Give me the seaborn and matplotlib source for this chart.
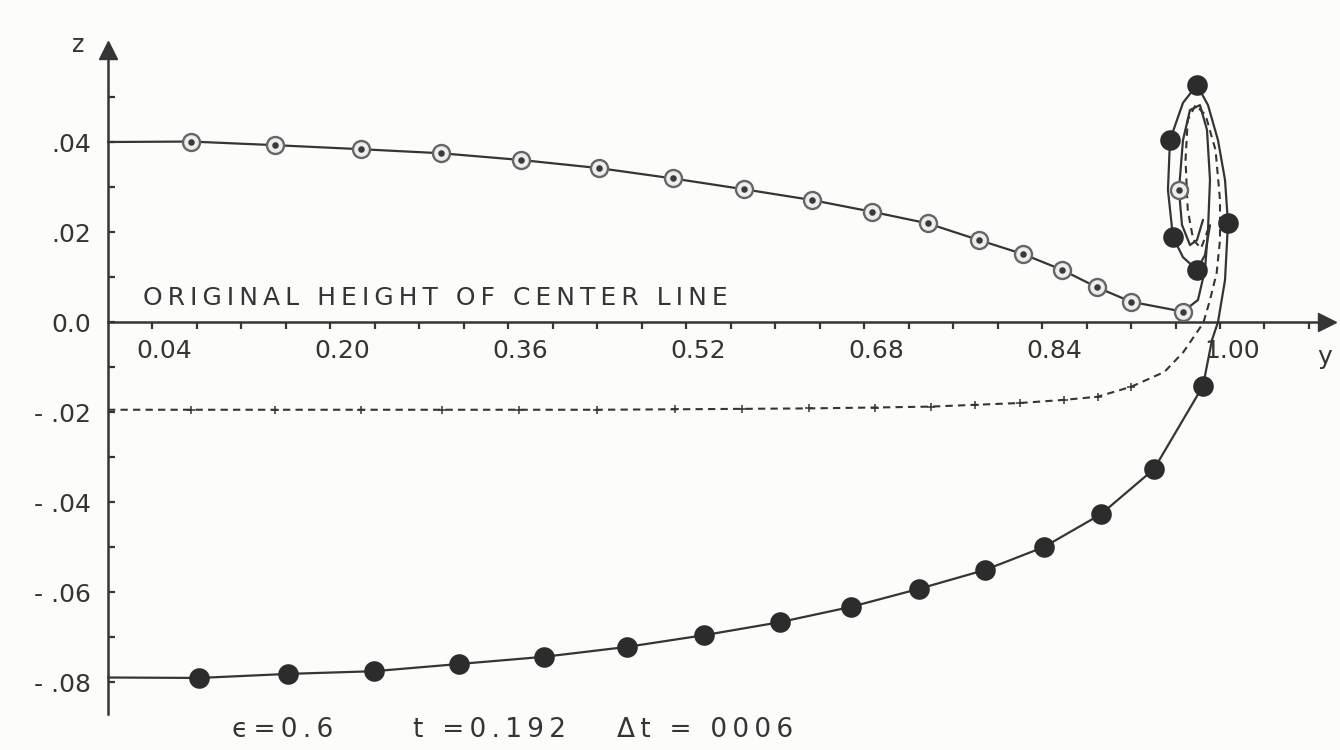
import matplotlib
matplotlib.use('Agg')
import matplotlib.pyplot as plt
import matplotlib.transforms as mtransforms
import numpy as np
import seaborn as sns


# upper interface (open circles), initially at z = .04
open_start = (0.0, 0.0400)
open_y = [0.0746, 0.150, 0.2275, 0.2995, 0.3714, 0.4415, 0.5081, 0.5719, 0.6331,
          0.6871, 0.7374, 0.7833, 0.8228, 0.8579, 0.8894, 0.9200, 0.9667]
open_z = [0.0401, 0.0393, 0.0384, 0.0375, 0.0360, 0.0342, 0.0319, 0.0295, 0.0271,
          0.0245, 0.0219, 0.0182, 0.0151, 0.0116, 0.0077, 0.0045, 0.0023]
# roll-up of the upper interface
open_tail_y = [0.9802, 0.9865, 0.9892, 0.9910, 0.9883, 0.9820, 0.9730, 0.9667,
               0.9631, 0.9658, 0.9730, 0.9793, 0.9847]
open_tail_z = [0.0049, 0.0116, 0.0204, 0.0316, 0.0427, 0.0482, 0.0471, 0.0404,
               0.0293, 0.0216, 0.0171, 0.0182, 0.0227]
open_tail_marks = [8]

# lower interface (filled circles), initially at z = -.08
filled_start = (0.0, -0.0790)
filled_y = [0.0818, 0.1619, 0.2392, 0.3156, 0.3921, 0.4667, 0.5360, 0.6043,
            0.6682, 0.7293, 0.7887, 0.8417, 0.8930, 0.9406, 0.9847]
filled_z = [-0.0791, -0.0782, -0.0776, -0.0760, -0.0744, -0.0722, -0.0696, -0.0667,
            -0.0633, -0.0593, -0.0551, -0.0500, -0.0427, -0.0327, -0.0142]
filled_tail_y = [0.9928, 0.9982, 1.0045, 1.0072, 1.0045, 0.9982, 0.9892, 0.9793,
                 0.9667, 0.9550, 0.9532, 0.9577, 0.9667, 0.9793, 0.9865, 0.9910]
filled_tail_z = [-0.0040, 0.0000, 0.0093, 0.0220, 0.0316, 0.0404, 0.0482, 0.0527,
                 0.0487, 0.0404, 0.0293, 0.0189, 0.0144, 0.0116, 0.0149, 0.0215]
filled_tail_marks = [3, 7, 9, 11, 13]

# center line (dashed), initially at z = -.02
dash_y = [0.0, 0.075, 0.150, 0.2275, 0.300, 0.370, 0.440, 0.510, 0.570, 0.630,
          0.690, 0.740, 0.780, 0.820, 0.860, 0.890, 0.920, 0.950, 0.967, 0.985,
          0.991, 0.997, 1.000, 1.000, 0.996, 0.987, 0.978, 0.971, 0.969, 0.971,
          0.976, 0.983, 0.989]
dash_z = [-0.0195, -0.0195, -0.0195, -0.0195, -0.0195, -0.0195, -0.0195, -0.0194,
          -0.0193, -0.0192, -0.0190, -0.0188, -0.0184, -0.0180, -0.0173, -0.0166,
          -0.0144, -0.0111, -0.0067, -0.0002, 0.0049, 0.0109, 0.0182, 0.0271,
          0.0382, 0.0460, 0.0482, 0.0449, 0.0360, 0.0249, 0.0182, 0.0164, 0.0204]
dash_marks = list(range(1, 17))

xtick_vals = [0.04, 0.20, 0.36, 0.52, 0.68, 0.84, 1.00]
xtick_labels = ['0.04', '0.20', '0.36', '0.52', '0.68', '0.84', '1.00']
ytick_vals = [-0.08, -0.06, -0.04, -0.02, 0.0, 0.02, 0.04]
ytick_labels = ['- .08', '- .06', '- .04', '- .02', '0.0', '.02', '.04']

ink = '#353535'
paper = '#fcfcfb'


def spaced(s):
    # hand lettering on the original is widely spaced
    return '\u2009'.join(s)


sns.set_style('white')
plt.rcParams['font.family'] = ['DejaVu Sans']

fig = plt.figure(figsize=(13.4, 7.5), dpi=100, facecolor=paper)
# axis geometry in pixels: y=0 at x=108, 1112 px per unit; z=0 at 322 px, 4500 px per unit
x0, xs = 108, 1112
z0, zs = 322, 4500
xlim = (-0.007, 1.104)
ylim = (-0.087, 0.065)
left = (x0 + xlim[0] * xs) / 1340
right = (x0 + xlim[1] * xs) / 1340
top = 1 - (z0 - ylim[1] * zs) / 750
bottom = 1 - (z0 - ylim[0] * zs) / 750
ax = fig.add_axes([left, bottom, right - left, top - bottom])
ax.set_facecolor(paper)
ax.set_xlim(*xlim)
ax.set_ylim(*ylim)

# lines
up_y = [open_start[0]] + open_y + open_tail_y
up_z = [open_start[1]] + open_z + open_tail_z
lo_y = [filled_start[0]] + filled_y + filled_tail_y
lo_z = [filled_start[1]] + filled_z + filled_tail_z
sns.lineplot(x=up_y, y=up_z, sort=False, estimator=None, color=ink, lw=1.6, ax=ax)
sns.lineplot(x=lo_y, y=lo_z, sort=False, estimator=None, color=ink, lw=1.6, ax=ax)
sns.lineplot(x=dash_y, y=dash_z, sort=False, estimator=None, color=ink, lw=1.5,
             linestyle=(0, (3.5, 2.5)), ax=ax)

# markers
oy = open_y + [open_tail_y[i] for i in open_tail_marks]
oz = open_z + [open_tail_z[i] for i in open_tail_marks]
sns.scatterplot(x=oy, y=oz, s=150, facecolor='#ededed', edgecolor='#666666',
                linewidth=1.7, zorder=4, ax=ax)
sns.scatterplot(x=oy, y=oz, s=22, color='#3a3a3a', linewidth=0, zorder=5, ax=ax)
fy = filled_y + [filled_tail_y[i] for i in filled_tail_marks]
fz = filled_z + [filled_tail_z[i] for i in filled_tail_marks]
sns.scatterplot(x=fy, y=fz, s=220, color='#2c2c2c', linewidth=0, zorder=4, ax=ax)
sns.scatterplot(x=[dash_y[i] for i in dash_marks], y=[dash_z[i] for i in dash_marks],
                marker='+', s=26, color=ink, linewidth=1.1, zorder=4, ax=ax)

# axes drawn through the origin with arrow heads
for side in ['top', 'right']:
    ax.spines[side].set_visible(False)
ax.spines['left'].set_position(('data', 0))
ax.spines['bottom'].set_position(('data', 0))
ax.spines['left'].set_bounds(ylim[0], 0.060)
ax.spines['bottom'].set_bounds(0, 1.095)
for side in ['left', 'bottom']:
    ax.spines[side].set_color(ink)
    ax.spines[side].set_linewidth(1.8)
ax.plot([0], [0.0605], marker='^', ms=13, color=ink, clip_on=False, zorder=6)
ax.plot([1.096], [0], marker='>', ms=13, color=ink, clip_on=False, zorder=6)

ax.set_xticks(xtick_vals)
ax.set_xticklabels(xtick_labels)
ax.set_xticks(np.arange(1, 28) * 0.04, minor=True)
ax.set_yticks(ytick_vals)
ax.set_yticklabels(ytick_labels)
ax.set_yticks(np.arange(-8, 6) * 0.01, minor=True)
ax.tick_params(axis='x', which='both', bottom=True, direction='out', length=5,
               width=1.6, color=ink, labelsize=18, labelcolor=ink, pad=7)
ax.tick_params(axis='y', which='both', left=True, direction='in', length=5,
               width=1.6, color=ink, labelsize=18, labelcolor=ink, pad=12)
shift = mtransforms.ScaledTranslation(0.12, 0, fig.dpi_scale_trans)
for lbl in ax.get_xticklabels():
    lbl.set_transform(lbl.get_transform() + shift)

ax.text(0.0315, 0.0053, spaced('ORIGINAL HEIGHT OF CENTER LINE'), fontsize=18,
        color=ink, ha='left', va='center')
fig.text(78 / 1340, 1 - 45 / 750, 'z', fontsize=17, color=ink, ha='center', va='center')
fig.text(1325 / 1340, 1 - 357 / 750, 'y', fontsize=18, color=ink, ha='center', va='center')
fig.text(232 / 1340, 1 - 730 / 750, spaced('ϵ=0.6'), fontsize=19, color=ink,
         ha='left', va='center')
fig.text(413 / 1340, 1 - 730 / 750, spaced('t =0.192'), fontsize=19, color=ink,
         ha='left', va='center')
fig.text(617 / 1340, 1 - 730 / 750, spaced('Δt = 0006'), fontsize=19, color=ink,
         ha='left', va='center')

fig.savefig('out.png', dpi=100, facecolor=paper)
